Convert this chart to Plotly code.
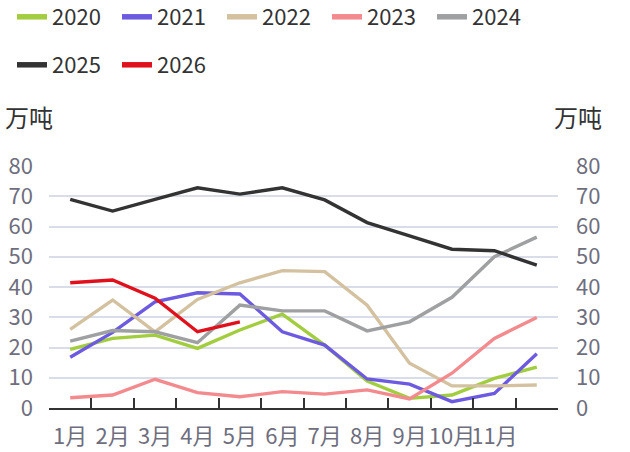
import plotly.graph_objects as go

months = ["1月", "2月", "3月", "4月", "5月", "6月", "7月", "8月", "9月", "10月", "11月", "12月"]
tick_labels = ["1月", "2月", "3月", "4月", "5月", "6月", "7月", "8月", "9月", "10月", "11月", ""]
y_ticks = [0, 10, 20, 30, 40, 50, 60, 70, 80]

s2020 = [19.4, 23.0, 24.1, 19.7, 25.8, 31.0, 20.8, 8.9, 3.2, 4.3, 9.8, 13.5]
s2021 = [16.8, 25.0, 35.1, 38.1, 37.7, 25.2, 20.8, 9.6, 7.9, 2.1, 4.8, 17.9]
s2022 = [26.0, 35.7, 25.2, 35.9, 41.4, 45.4, 45.1, 34.0, 14.8, 7.3, 7.3, 7.6]
s2023 = [3.4, 4.3, 9.5, 5.1, 3.7, 5.4, 4.6, 6.0, 3.0, 11.5, 23.0, 29.9]
s2024 = [22.1, 25.6, 25.2, 21.6, 34.0, 32.1, 32.1, 25.5, 28.5, 36.6, 50.0, 56.5]
s2025 = [69.0, 65.1, 69.0, 72.8, 70.7, 72.8, 68.8, 61.3, 56.9, 52.5, 52.0, 47.2]
s2026 = [41.4, 42.3, 36.3, 25.2, 28.5]

series = [
    ("2020", s2020, "#a2cd3f", "legend"),
    ("2021", s2021, "#6c5ae0", "legend"),
    ("2022", s2022, "#d3c19f", "legend"),
    ("2023", s2023, "#f38a8e", "legend3"),
    ("2024", s2024, "#9fa0a2", "legend3"),
    ("2025", s2025, "#333333", "legend2"),
    ("2026", s2026, "#e0101c", "legend2"),
]

FONT = "Noto Sans CJK SC"
fig = go.Figure()
for name, vals, color, lg in series:
    fig.add_trace(go.Scatter(
        x=months[:len(vals)], y=vals, name=name, mode="lines",
        line=dict(color=color, width=3.4), legend=lg, legendgroup=name,
        showlegend=False,
        yaxis="y2" if name == "2026" else "y",
    ))
# legend entries (thicker swatch like the reference), no data of their own
for name, vals, color, lg in series:
    fig.add_trace(go.Scatter(
        x=[None], y=[None], name=name, mode="lines",
        line=dict(color=color, width=5.5), legend=lg, legendgroup=name,
        showlegend=True, hoverinfo="skip",
    ))

legend_common = dict(
    orientation="h", xref="container", yref="container",
    xanchor="left", yanchor="middle",
    entrywidth=60, entrywidthmode="pixels",
    font=dict(family=FONT, size=22, color="#333333"),
    bgcolor="rgba(0,0,0,0)",
)

fig.update_layout(
    width=630, height=452,
    margin=dict(l=49, r=72, t=166, b=44, autoexpand=False),
    paper_bgcolor="white", plot_bgcolor="white",
    font=dict(family=FONT, size=22, color="#333333"),
    xaxis=dict(
        categoryorder="array", categoryarray=months,
        tickmode="array", tickvals=months, ticktext=tick_labels,
        range=[-0.5, 11.5], tickson="boundaries", tickangle=0,
        ticks="inside", ticklen=10, tickwidth=1.5, tickcolor="#333333",
        showline=True, linecolor="#333333", linewidth=1.5,
        showgrid=False, zeroline=False, automargin=False,
        tickfont=dict(family=FONT, size=22, color="#6e6e7e"),
        ticklabelstandoff=8,
    ),
    yaxis=dict(
        range=[0, 80], tickvals=y_ticks, showgrid=True,
        gridcolor="#d9dce9", gridwidth=1.5, zeroline=False,
        showline=False, ticks="", automargin=False,
        tickfont=dict(family=FONT, size=22, color="#6e6e7e"),
        ticklabelstandoff=15,
    ),
    yaxis2=dict(
        range=[0, 80], tickvals=y_ticks, overlaying="y", side="right",
        showgrid=False, zeroline=False, showline=False, ticks="",
        automargin=False,
        tickfont=dict(family=FONT, size=22, color="#6e6e7e"),
        ticklabelstandoff=17,
    ),
    legend=dict(legend_common, x=12 / 630, y=1 - 17 / 452),
    legend3=dict(legend_common, x=327 / 630, y=1 - 17 / 452),
    legend2=dict(legend_common, x=12 / 630, y=1 - 65 / 452),
    annotations=[
        dict(text="万吨", xref="paper", yref="paper", x=-0.039, y=1.2025,
             xanchor="center", yanchor="middle", showarrow=False,
             font=dict(family=FONT, size=24, color="#333333")),
        dict(text="万吨", xref="paper", yref="paper", x=1.040, y=1.2025,
             xanchor="center", yanchor="middle", showarrow=False,
             font=dict(family=FONT, size=24, color="#333333")),
    ],
)

fig.write_html("out.html", config={"displayModeBar": False},
               post_script="document.body.style.margin='0';")
